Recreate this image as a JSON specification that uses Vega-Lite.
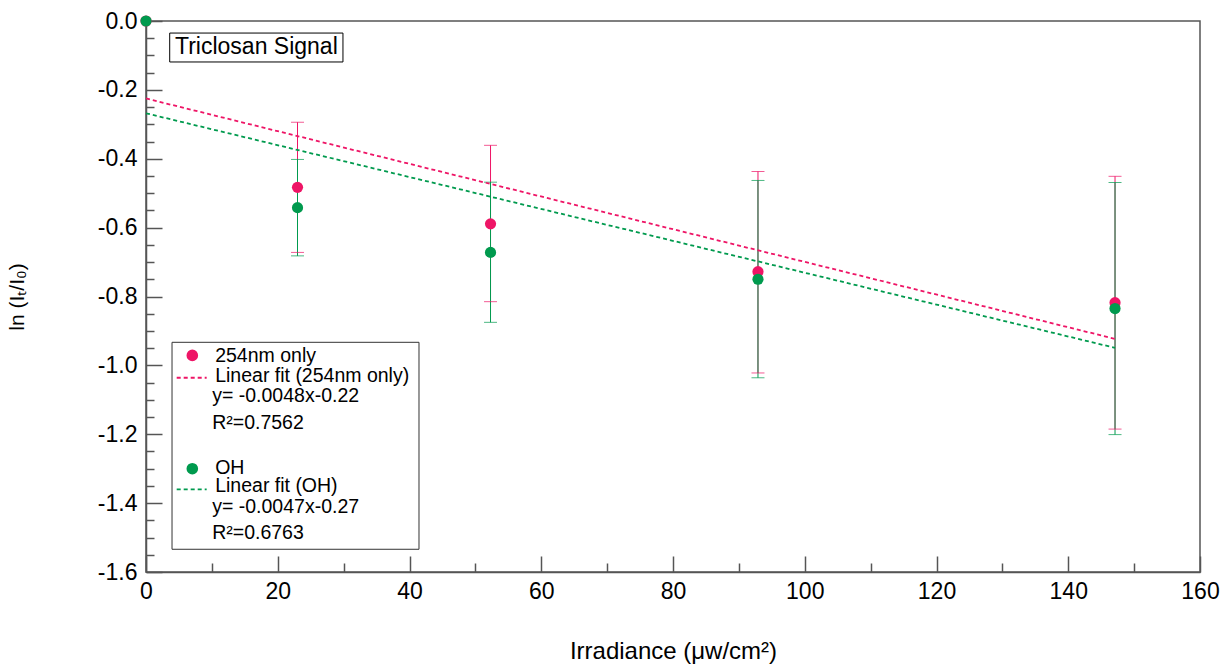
{
  "$schema": "https://vega.github.io/schema/vega-lite/v6.json",
  "width": 1054,
  "height": 551,
  "autosize": "none",
  "padding": {"left": 146, "top": 21, "right": 22, "bottom": 93},
  "background": "white",
  "config": {
    "view": {"stroke": "#555", "strokeWidth": 1.5},
    "font": "Liberation Sans",
    "text": {"font": "Liberation Sans", "color": "black", "align": "left", "baseline": "alphabetic", "fontSize": 19.5},
    "axis": {
      "grid": false,
      "domainColor": "#555",
      "domainWidth": 1.5,
      "tickColor": "#555",
      "tickWidth": 1.5,
      "labelColor": "black",
      "titleColor": "black",
      "labelFont": "Liberation Sans",
      "titleFont": "Liberation Sans",
      "titleFontWeight": "normal",
      "labelFlush": false,
      "labelOverlap": false
    }
  },
  "datasets": {
    "points": [
      {"series": "254nm only", "x": 0, "y": 0, "lo": null, "hi": null},
      {"series": "254nm only", "x": 23.0, "y": -0.483, "lo": -0.672, "hi": -0.294},
      {"series": "254nm only", "x": 52.3, "y": -0.589, "lo": -0.815, "hi": -0.361},
      {"series": "254nm only", "x": 92.9, "y": -0.728, "lo": -1.022, "hi": -0.437},
      {"series": "254nm only", "x": 147.1, "y": -0.818, "lo": -1.185, "hi": -0.451},
      {"series": "OH", "x": 0, "y": 0, "lo": null, "hi": null},
      {"series": "OH", "x": 23.0, "y": -0.542, "lo": -0.682, "hi": -0.402},
      {"series": "OH", "x": 52.3, "y": -0.672, "lo": -0.875, "hi": -0.468},
      {"series": "OH", "x": 92.9, "y": -0.750, "lo": -1.036, "hi": -0.463},
      {"series": "OH", "x": 147.1, "y": -0.835, "lo": -1.201, "hi": -0.469}
    ],
    "fits": [
      {"fit": "Linear fit (254nm only)", "x": 0, "y": -0.225},
      {"fit": "Linear fit (254nm only)", "x": 147.1, "y": -0.923},
      {"fit": "Linear fit (OH)", "x": 0, "y": -0.268},
      {"fit": "Linear fit (OH)", "x": 147.1, "y": -0.949}
    ]
  },
  "resolve": {"axis": {"x": "independent", "y": "independent"}},
  "layer": [
    {
      "data": {"name": "points"},
      "mark": {"type": "rule", "strokeWidth": 1},
      "encoding": {
        "x": {"field": "x", "type": "quantitative", "scale": {"domain": [0, 160], "nice": false},
          "axis": {"orient": "bottom", "values": [10, 30, 50, 70, 90, 110, 130, 150], "labels": false, "domain": false, "tickSize": -9, "title": null}},
        "y": {"field": "lo", "type": "quantitative", "scale": {"domain": [-1.6, 0], "nice": false},
          "axis": {"orient": "left", "values": [-0.05, -0.1, -0.15, -0.25, -0.3, -0.35, -0.45, -0.5, -0.55, -0.65, -0.7, -0.75, -0.85, -0.9, -0.95, -1.05, -1.1, -1.15, -1.25, -1.3, -1.35, -1.45, -1.5, -1.55], "labels": false, "domain": false, "tickSize": -8, "title": null}},
        "y2": {"field": "hi"},
        "color": {"field": "series", "type": "nominal",
          "scale": {"domain": ["254nm only", "OH", "Linear fit (254nm only)", "Linear fit (OH)"], "range": ["#ee1566", "#009a4e", "#ee1566", "#009a4e"]},
          "legend": null}
      }
    },
    {
      "data": {"name": "points"},
      "mark": {"type": "tick", "orient": "horizontal", "size": 13, "thickness": 1},
      "encoding": {
        "x": {"field": "x", "type": "quantitative", "scale": {"domain": [0, 160], "nice": false}, "axis": null},
        "y": {"field": "lo", "type": "quantitative", "scale": {"domain": [-1.6, 0], "nice": false}, "axis": null},
        "color": {"field": "series", "type": "nominal",
          "scale": {"domain": ["254nm only", "OH", "Linear fit (254nm only)", "Linear fit (OH)"], "range": ["#ee1566", "#009a4e", "#ee1566", "#009a4e"]},
          "legend": null}
      }
    },
    {
      "data": {"name": "points"},
      "mark": {"type": "tick", "orient": "horizontal", "size": 13, "thickness": 1},
      "encoding": {
        "x": {"field": "x", "type": "quantitative", "scale": {"domain": [0, 160], "nice": false}, "axis": null},
        "y": {"field": "hi", "type": "quantitative", "scale": {"domain": [-1.6, 0], "nice": false}, "axis": null},
        "color": {"field": "series", "type": "nominal",
          "scale": {"domain": ["254nm only", "OH", "Linear fit (254nm only)", "Linear fit (OH)"], "range": ["#ee1566", "#009a4e", "#ee1566", "#009a4e"]},
          "legend": null}
      }
    },
    {
      "data": {"name": "fits"},
      "mark": {"type": "line", "strokeDash": [4, 3], "strokeWidth": 1.8},
      "encoding": {
        "x": {"field": "x", "type": "quantitative", "scale": {"domain": [0, 160], "nice": false},
          "axis": {"orient": "bottom", "values": [0, 20, 40, 60, 80, 100, 120, 140, 160], "ticks": false, "tickSize": 0, "labelPadding": 8, "labelFontSize": 23,
                   "title": "Irradiance (μw/cm²)", "titleFontSize": 24, "titlePadding": 36}},
        "y": {"field": "y", "type": "quantitative", "scale": {"domain": [-1.6, 0], "nice": false},
          "axis": {"orient": "left", "values": [0, -0.2, -0.4, -0.6, -0.8, -1, -1.2, -1.4, -1.6], "ticks": false, "tickSize": 0, "labelPadding": 9, "labelFontSize": 23,
                   "labelExpr": "replace(format(datum.value, '.1f'), '\u2212', '-')",
                   "title": "ln (Iₜ/I₀)", "titleFontSize": 21, "titlePadding": 70}},
        "color": {"field": "fit", "type": "nominal",
          "scale": {"domain": ["254nm only", "OH", "Linear fit (254nm only)", "Linear fit (OH)"], "range": ["#ee1566", "#009a4e", "#ee1566", "#009a4e"]},
          "legend": null}
      }
    },
    {
      "data": {"name": "points"},
      "mark": {"type": "point", "filled": true, "size": 125, "opacity": 1},
      "encoding": {
        "x": {"field": "x", "type": "quantitative", "scale": {"domain": [0, 160], "nice": false},
          "axis": {"orient": "bottom", "values": [0, 20, 40, 60, 80, 100, 120, 140, 160], "labels": false, "domain": false, "tickSize": -16, "title": null}},
        "y": {"field": "y", "type": "quantitative", "scale": {"domain": [-1.6, 0], "nice": false},
          "axis": {"orient": "left", "values": [0, -0.2, -0.4, -0.6, -0.8, -1, -1.2, -1.4, -1.6], "labels": false, "domain": false, "tickSize": -16, "title": null}},
        "color": {"field": "series", "type": "nominal",
          "scale": {"domain": ["254nm only", "OH", "Linear fit (254nm only)", "Linear fit (OH)"], "range": ["#ee1566", "#009a4e", "#ee1566", "#009a4e"]},
          "legend": null}
      }
    },
    {
      "data": {"values": [{"label": "Triclosan Signal"}]},
      "mark": {"type": "rect", "fill": "white", "stroke": "black", "strokeWidth": 1},
      "encoding": {
        "x": {"datum": 3.6, "type": "quantitative", "scale": {"domain": [0, 160], "nice": false}, "axis": null},
        "x2": {"datum": 29.9},
        "y": {"datum": -0.035, "type": "quantitative", "scale": {"domain": [-1.6, 0], "nice": false}, "axis": null},
        "y2": {"datum": -0.119}
      }
    },
    {
      "data": {"values": [{"label": "Triclosan Signal"}]},
      "mark": {"type": "text", "fontSize": 23},
      "encoding": {
        "x": {"datum": 4.4, "type": "quantitative", "scale": {"domain": [0, 160], "nice": false}, "axis": null},
        "y": {"datum": -0.0967, "type": "quantitative", "scale": {"domain": [-1.6, 0], "nice": false}, "axis": null},
        "text": {"field": "label"}
      }
    },
    {
      "data": {"values": [{"label": "legend box"}]},
      "mark": {"type": "rect", "fill": "white", "stroke": "#333", "strokeWidth": 1},
      "encoding": {
        "x": {"datum": 3.95, "type": "quantitative", "scale": {"domain": [0, 160], "nice": false}, "axis": null},
        "x2": {"datum": 41.44},
        "y": {"datum": -0.933, "type": "quantitative", "scale": {"domain": [-1.6, 0], "nice": false}, "axis": null},
        "y2": {"datum": -1.534}
      }
    },
    {
      "data": {"values": [{"label": "254nm only"}]},
      "mark": {"type": "point", "filled": true, "size": 135, "opacity": 1, "color": "#ee1566"},
      "encoding": {
        "x": {"datum": 7.03, "type": "quantitative", "scale": {"domain": [0, 160], "nice": false}, "axis": null},
        "y": {"datum": -0.971, "type": "quantitative", "scale": {"domain": [-1.6, 0], "nice": false}, "axis": null}
      }
    },
    {
      "data": {"values": [{"label": "254nm only"}]},
      "mark": {"type": "text"},
      "encoding": {
        "x": {"datum": 10.5, "type": "quantitative", "scale": {"domain": [0, 160], "nice": false}, "axis": null},
        "y": {"datum": -0.990, "type": "quantitative", "scale": {"domain": [-1.6, 0], "nice": false}, "axis": null},
        "text": {"field": "label"}
      }
    },
    {
      "data": {"values": [{"label": "Linear fit (254nm only)"}]},
      "mark": {"type": "rule", "strokeDash": [4, 3], "strokeWidth": 1.8, "color": "#ee1566"},
      "encoding": {
        "x": {"datum": 4.66, "type": "quantitative", "scale": {"domain": [0, 160], "nice": false}, "axis": null},
        "x2": {"datum": 9.21},
        "y": {"datum": -1.036, "type": "quantitative", "scale": {"domain": [-1.6, 0], "nice": false}, "axis": null}
      }
    },
    {
      "data": {"values": [{"label": "Linear fit (254nm only)"}]},
      "mark": {"type": "text"},
      "encoding": {
        "x": {"datum": 10.5, "type": "quantitative", "scale": {"domain": [0, 160], "nice": false}, "axis": null},
        "y": {"datum": -1.048, "type": "quantitative", "scale": {"domain": [-1.6, 0], "nice": false}, "axis": null},
        "text": {"field": "label"}
      }
    },
    {
      "data": {"values": [{"label": "y= -0.0048x-0.22"}]},
      "mark": {"type": "text"},
      "encoding": {
        "x": {"datum": 10.05, "type": "quantitative", "scale": {"domain": [0, 160], "nice": false}, "axis": null},
        "y": {"datum": -1.106, "type": "quantitative", "scale": {"domain": [-1.6, 0], "nice": false}, "axis": null},
        "text": {"field": "label"}
      }
    },
    {
      "data": {"values": [{"label": "R²=0.7562"}]},
      "mark": {"type": "text"},
      "encoding": {
        "x": {"datum": 10.05, "type": "quantitative", "scale": {"domain": [0, 160], "nice": false}, "axis": null},
        "y": {"datum": -1.184, "type": "quantitative", "scale": {"domain": [-1.6, 0], "nice": false}, "axis": null},
        "text": {"field": "label"}
      }
    },
    {
      "data": {"values": [{"label": "OH"}]},
      "mark": {"type": "point", "filled": true, "size": 135, "opacity": 1, "color": "#009a4e"},
      "encoding": {
        "x": {"datum": 7.03, "type": "quantitative", "scale": {"domain": [0, 160], "nice": false}, "axis": null},
        "y": {"datum": -1.300, "type": "quantitative", "scale": {"domain": [-1.6, 0], "nice": false}, "axis": null}
      }
    },
    {
      "data": {"values": [{"label": "OH"}]},
      "mark": {"type": "text"},
      "encoding": {
        "x": {"datum": 10.5, "type": "quantitative", "scale": {"domain": [0, 160], "nice": false}, "axis": null},
        "y": {"datum": -1.314, "type": "quantitative", "scale": {"domain": [-1.6, 0], "nice": false}, "axis": null},
        "text": {"field": "label"}
      }
    },
    {
      "data": {"values": [{"label": "Linear fit (OH)"}]},
      "mark": {"type": "rule", "strokeDash": [4, 3], "strokeWidth": 1.8, "color": "#009a4e"},
      "encoding": {
        "x": {"datum": 4.66, "type": "quantitative", "scale": {"domain": [0, 160], "nice": false}, "axis": null},
        "x2": {"datum": 9.21},
        "y": {"datum": -1.360, "type": "quantitative", "scale": {"domain": [-1.6, 0], "nice": false}, "axis": null}
      }
    },
    {
      "data": {"values": [{"label": "Linear fit (OH)"}]},
      "mark": {"type": "text"},
      "encoding": {
        "x": {"datum": 10.5, "type": "quantitative", "scale": {"domain": [0, 160], "nice": false}, "axis": null},
        "y": {"datum": -1.368, "type": "quantitative", "scale": {"domain": [-1.6, 0], "nice": false}, "axis": null},
        "text": {"field": "label"}
      }
    },
    {
      "data": {"values": [{"label": "y= -0.0047x-0.27"}]},
      "mark": {"type": "text"},
      "encoding": {
        "x": {"datum": 10.05, "type": "quantitative", "scale": {"domain": [0, 160], "nice": false}, "axis": null},
        "y": {"datum": -1.430, "type": "quantitative", "scale": {"domain": [-1.6, 0], "nice": false}, "axis": null},
        "text": {"field": "label"}
      }
    },
    {
      "data": {"values": [{"label": "R²=0.6763"}]},
      "mark": {"type": "text"},
      "encoding": {
        "x": {"datum": 10.05, "type": "quantitative", "scale": {"domain": [0, 160], "nice": false}, "axis": null},
        "y": {"datum": -1.503, "type": "quantitative", "scale": {"domain": [-1.6, 0], "nice": false}, "axis": null},
        "text": {"field": "label"}
      }
    }
  ]
}
